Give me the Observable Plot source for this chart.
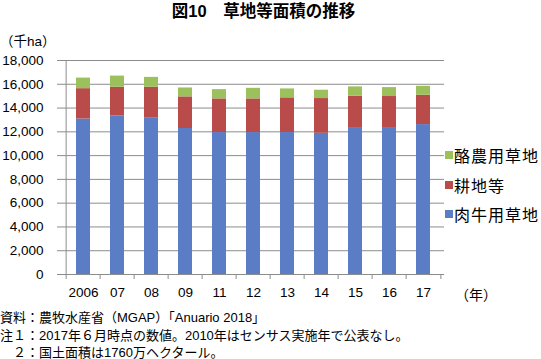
<!DOCTYPE html>
<html>
<head>
<meta charset="utf-8">
<script src="https://cdn.jsdelivr.net/npm/d3@7"></script>
<script src="https://cdn.jsdelivr.net/npm/@observablehq/plot@0.6"></script>
<style>
  body { margin: 0; background: #fff; }
  #wrap { position: relative; width: 541px; height: 359px; overflow: hidden; background: #fff;
          font-family: "Liberation Sans", "Noto Sans CJK JP", sans-serif; color: #000; }
  .abs { position: absolute; white-space: nowrap; }
  #title { top: -2px; left: 0; width: 527px; text-align: center; font-size: 16.5px; font-weight: bold; }
  #unit { top: 30px; left: 0px; font-size: 13.5px; }
  #nen { top: 284px; left: 455px; font-size: 14px; }
  #chart { position: absolute; top: 50px; left: 0; }
  .leg { position: absolute; left: 445px; font-size: 16px; letter-spacing: 1px; display: flex; align-items: center; }
  .sw { width: 8px; height: 8px; margin-right: 1px; }
  .note { position: absolute; left: 0; font-size: 13px; }
</style>
</head>
<body>
<div id="wrap">
  <div id="title" class="abs">図10　草地等面積の推移</div>
  <div id="unit" class="abs">（千ha）</div>
  <div id="chart"></div>
  <div id="nen" class="abs">（年）</div>
  <div id="legend"></div>
  <div class="note" style="top:307px">資料：農牧水産省（MGAP）「Anuario 2018」</div>
  <div class="note" style="top:325px">注１：2017年６月時点の数値。2010年はセンサス実施年で公表なし。</div>
  <div class="note" style="top:342px">　２：国土面積は1760万ヘクタール。</div>
</div>
<script>
const years = ["2006", "07", "08", "09", "11", "12", "13", "14", "15", "16", "17"];
const seriesNames = ["肉牛用草地", "耕地等", "酪農用草地"];
const seriesColors = ["#5b7dc6", "#b94c4a", "#9cc05c"];
const beefGrass = [13080, 13330, 13190, 12280, 11940, 11940, 11940, 11880, 12360, 12360, 12610];
const farmland  = [2550, 2420, 2560, 2660, 2830, 2830, 2920, 2920, 2640, 2610, 2470];
const dairyGrass = [890, 940, 830, 750, 780, 890, 750, 700, 780, 750, 750];
const yTicks = [0, 2000, 4000, 6000, 8000, 10000, 12000, 14000, 16000, 18000];
const legendOrder = ["酪農用草地", "耕地等", "肉牛用草地"];

const seriesValues = [beefGrass, farmland, dairyGrass];
const data = [];
years.forEach((yr, i) => {
  seriesNames.forEach((s, j) => data.push({year: yr, series: s, value: seriesValues[j][i]}));
});

const W = 541, H = 250, ML = 62, MR = 97, MT = 10, MB = 26;
const step = (W - ML - MR) / years.length;
const tickDown = 5 / (H - MT - MB) * 18000;
const gray = "#8c8c8c";

const chart = Plot.plot({
  width: W, height: H,
  marginLeft: ML, marginRight: MR, marginTop: MT, marginBottom: MB,
  style: {fontFamily: "'Liberation Sans', 'Noto Sans CJK JP', sans-serif", fontSize: "13px", background: "transparent", color: "#000"},
  x: {domain: years, paddingInner: 0.59, paddingOuter: 0.295, label: null},
  y: {domain: [0, 18000], label: null},
  color: {domain: seriesNames, range: seriesColors},
  marks: [
    Plot.gridY(yTicks.slice(1), {stroke: gray, strokeOpacity: 1}),
    Plot.barY(data, {x: "year", y: "value", fill: "series"}),
    Plot.ruleY([0], {stroke: gray}),
    Plot.ruleX([years[0]], {dx: -step / 2, y1: 0, y2: 18000, stroke: gray}),
    Plot.ruleX(years, {dx: -step / 2, y1: 0, y2: -tickDown, stroke: gray}),
    Plot.ruleX([years[years.length - 1]], {dx: step / 2, y1: 0, y2: -tickDown, stroke: gray}),
    Plot.axisY({ticks: yTicks, tickSize: 5, tickPadding: 14, tickFormat: d3.format(","), stroke: gray, fontSize: 13.5, label: null}),
    Plot.axisX({tickSize: 0, tickPadding: 13, fontSize: 13.5, label: null})
  ]
});
document.getElementById("chart").appendChild(chart);

const legend = document.getElementById("legend");
const legTops = [143, 173, 202];
legendOrder.forEach((s, k) => {
  const d = document.createElement("div");
  d.className = "leg";
  d.style.top = legTops[k] + "px";
  const sw = document.createElement("span");
  sw.className = "sw";
  sw.style.background = seriesColors[seriesNames.indexOf(s)];
  const t = document.createElement("span");
  t.textContent = s;
  d.appendChild(sw); d.appendChild(t);
  legend.appendChild(d);
});
</script>
</body>
</html>
